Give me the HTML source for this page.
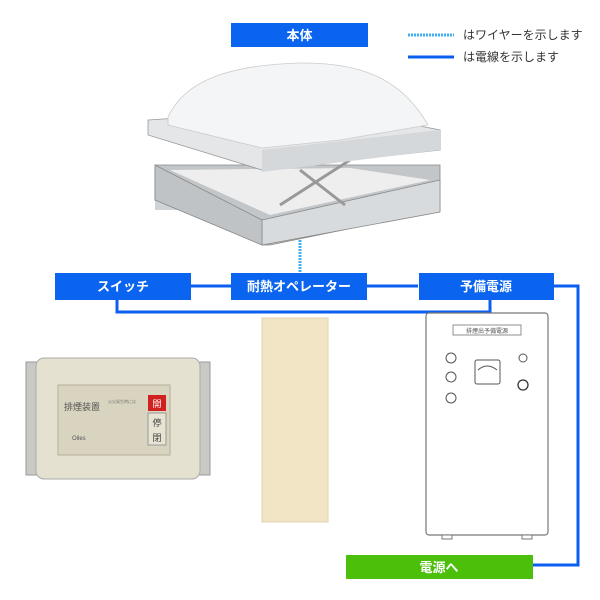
<!DOCTYPE html>
<html><head><meta charset="utf-8"><style>
body{margin:0;background:#fff;}
svg{display:block;font-family:"Liberation Sans","Noto Sans CJK JP",sans-serif;}
</style></head><body>
<svg width="600" height="600" viewBox="0 0 600 600" xmlns="http://www.w3.org/2000/svg">
<rect width="600" height="600" fill="#fff"/>
<!-- legend -->
<line x1="408" y1="35" x2="454" y2="35" stroke="#3fb0f0" stroke-width="3" stroke-dasharray="2,1"/>
<line x1="408" y1="57" x2="454" y2="57" stroke="#0a5ff0" stroke-width="3"/>
<text x="463" y="39" font-size="12" fill="#333">はワイヤーを示します</text>
<text x="463" y="61" font-size="12" fill="#333">は電線を示します</text>
<!-- title -->
<rect x="231" y="23" width="137" height="24" fill="#0a64f0"/>
<text x="299.5" y="40" font-size="13" font-weight="bold" fill="#fff" text-anchor="middle">本体</text>
<!-- dome unit -->
<rect x="155" y="165" width="285" height="45" fill="#cfd3d6"/>
<polygon points="155,165 440,165 440,210 270,245 262,245 262,220 155,200" fill="#c2c6c9" stroke="#888" stroke-width="0.8"/>
<polygon points="262,220 440,180 440,212 262,245" fill="#d8dbdd" stroke="#888" stroke-width="0.8"/>
<polygon points="155,165 262,220 262,245 155,200" fill="#bfc3c6" stroke="#888" stroke-width="0.8"/>
<polygon points="170,170 350,168 430,180 270,215" fill="#eeeeee"/>
<line x1="280" y1="205" x2="350" y2="160" stroke="#999" stroke-width="3"/>
<line x1="300" y1="170" x2="345" y2="205" stroke="#999" stroke-width="3"/>
<polygon points="148,120 330,108 440,130 440,150 262,170 148,135" fill="#e4e6e8" stroke="#999" stroke-width="0.8"/>
<polygon points="262,150 440,130 440,150 262,172" fill="#d5d8da"/>
<path d="M168,117 C185,80 230,65 300,63 C370,62 405,85 428,125 L340,140 L262,148 L168,125 Z" fill="#f4f5f6" stroke="#ccc" stroke-width="0.8"/>
<line x1="300" y1="240" x2="300" y2="272" stroke="#3fb0f0" stroke-width="3" stroke-dasharray="2,1"/>
<!-- connectors -->
<polyline points="117,295 117,312 490,312 490,295" fill="none" stroke="#0a5ff0" stroke-width="3"/>
<line x1="190" y1="286" x2="231" y2="286" stroke="#0a5ff0" stroke-width="3"/>
<line x1="367" y1="286" x2="418" y2="286" stroke="#0a5ff0" stroke-width="3"/>
<polyline points="553,286 578,286 578,565 533,565" fill="none" stroke="#0a5ff0" stroke-width="3"/>
<rect x="55" y="273" width="136" height="27" fill="#0a64f0"/>
<text x="123" y="291" font-size="13" font-weight="bold" fill="#fff" text-anchor="middle">スイッチ</text>
<rect x="231" y="273" width="136" height="27" fill="#0a64f0"/>
<text x="299" y="291" font-size="13" font-weight="bold" fill="#fff" text-anchor="middle">耐熱オペレーター</text>
<rect x="419" y="273" width="135" height="27" fill="#0a64f0"/>
<text x="486" y="291" font-size="13" font-weight="bold" fill="#fff" text-anchor="middle">予備電源</text>
<!-- switch panel -->
<rect x="26" y="362" width="184" height="113" fill="#c9c9c6" stroke="#999"/>
<rect x="36" y="358" width="164" height="121" rx="8" fill="#e5e1d0" stroke="#aaa"/>
<rect x="58" y="385" width="112" height="70" fill="#d9d4bf" stroke="#b5b09a"/>
<text x="64" y="410" font-size="9" fill="#555">排煙装置</text>
<text x="108" y="403" font-size="4" fill="#777">火災発生時には</text>
<text x="72" y="440" font-size="6" fill="#555">Oiles</text>
<rect x="148" y="395" width="18" height="16" fill="#d02020"/>
<text x="157" y="407" font-size="9" fill="#fff" text-anchor="middle">開</text>
<rect x="148" y="413" width="18" height="32" fill="#e8e4d4" stroke="#999"/>
<text x="157" y="426" font-size="9" fill="#444" text-anchor="middle">停</text>
<text x="157" y="441" font-size="9" fill="#444" text-anchor="middle">閉</text>
<!-- beige panel -->
<rect x="262" y="318" width="66" height="204" fill="#f2e5c6" stroke="#e0d2b0"/>
<!-- cabinet -->
<rect x="426" y="313" width="122" height="222" rx="3" fill="#fff" stroke="#777" stroke-width="1.2"/>
<rect x="453" y="325" width="68" height="10" fill="#fff" stroke="#777" stroke-width="0.8"/>
<text x="487" y="333" font-size="6" fill="#555" text-anchor="middle">排煙出予備電源</text>
<circle cx="451" cy="358" r="5" fill="#fff" stroke="#555"/>
<circle cx="451" cy="377" r="5" fill="#fff" stroke="#555"/>
<circle cx="451" cy="398" r="5" fill="#fff" stroke="#555"/>
<rect x="475" y="360" width="25" height="24" rx="2" fill="#fff" stroke="#555"/>
<path d="M478,370 Q487,362 497,370" fill="none" stroke="#555"/>
<circle cx="523" cy="358" r="4" fill="#fff" stroke="#555"/>
<circle cx="523" cy="385" r="5" fill="#fff" stroke="#333" stroke-width="1.3"/>
<rect x="442" y="535" width="10" height="4" fill="#fff" stroke="#777"/>
<rect x="522" y="535" width="10" height="4" fill="#fff" stroke="#777"/>
<!-- green -->
<rect x="346" y="555" width="187" height="24" fill="#4bbf0a"/>
<text x="439" y="572" font-size="13" font-weight="bold" fill="#fff" text-anchor="middle">電源へ</text>
</svg>
</body></html>
